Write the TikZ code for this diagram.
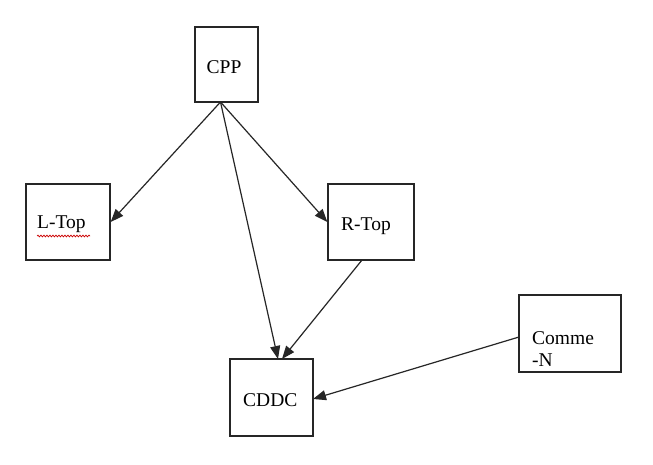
\documentclass[tikz,border=0pt]{standalone}
\usepackage{fontspec}
\setmainfont{Liberation Serif}
\usetikzlibrary{arrows.meta,decorations.pathmorphing}
\begin{document}
\begin{tikzpicture}[x=1pt,y=-1pt,
  box/.style={draw=black!85,line width=1.3pt,inner sep=0pt},
  lbl/.style={font=\fontsize{19.5}{22}\selectfont,inner sep=0pt,anchor=west},
  arr/.style={draw=black!85,line width=1.2pt,-{Triangle[length=13pt,width=10pt]}}]
\useasboundingbox (0,0) rectangle (653,465);
\fill[white] (0,0) rectangle (653,465);
% boxes
\node[box,minimum width=63pt,minimum height=75pt] (cpp) at (226.5,64.5) {};
\node[box,minimum width=84pt,minimum height=76pt] (ltop) at (68,222) {};
\node[box,minimum width=86pt,minimum height=76pt] (rtop) at (371,222) {};
\node[box,minimum width=83pt,minimum height=77pt] (cddc) at (271.5,397.5) {};
\node[box,minimum width=102pt,minimum height=77pt] (comme) at (570,333.5) {};
% labels
\node[lbl] (tcpp) at (206.5,67.5) {CPP};
\node[lbl] (tltop) at (37,224) {L-Top};
\node[lbl] (trtop) at (341,226) {R-Top};
\node[lbl] (tcddc) at (243,400) {CDDC};
\node[lbl] (tcomme) at (532,338) {Comme};
\node[lbl] (tn) at (532,360) {-N};
% red squiggle under L-Top
\draw[red!80!black,line width=0.7pt,decorate,decoration={snake,amplitude=0.9pt,segment length=3pt}] (37,236) -- (90,236);
% anchors
\coordinate (s) at (220.5,102);
\coordinate (c1) at (278,359);
\coordinate (c2) at (282,359);
\coordinate (rb) at (362,260);
\coordinate (cm) at (519,337);
\coordinate (ce) at (313,399);
\draw[arr] (s) -- (ltop.east);
\draw[arr] (s) -- (rtop.west);
\draw[arr] (s) -- (c1);
\draw[arr] (rb) -- (c2);
\draw[arr] (cm) -- (ce);
\end{tikzpicture}
\end{document}
